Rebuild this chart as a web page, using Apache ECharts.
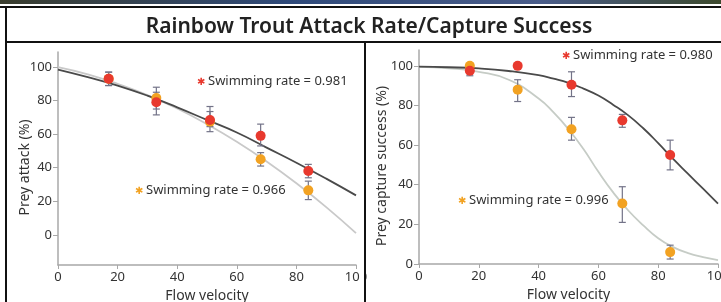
<!DOCTYPE html>
<html lang="en">

<head>
    <meta charset="UTF-8" />
    <title>Rainbow Trout Attack Rate/Capture Success</title>
    <script src="https://cdn.jsdelivr.net/npm/echarts@6/dist/echarts.min.js"></script>
    <style>
        html, body { margin: 0; padding: 0; background: #fff; }
        #main { width: 721px; height: 302px; }
    </style>
</head>

<body>
    <div id="main"></div>
</body>
<script>
    // flow velocities where the trials were run
    var velocity = [17, 33, 51, 68, 84];
    var tickValues = [0, 20, 40, 60, 80, 100];

    // left panel: prey attack (%)
    var attackRed = [93, 79, 68.5, 59, 38];
    var attackRedLow = [89, 71.5, 61.5, 53, 34];
    var attackRedHigh = [97, 85, 76.5, 66, 42];
    var attackOrange = [93, 81.5, 67.5, 45, 26.5];
    var attackOrangeLow = [89, 75, 64.5, 41, 21];
    var attackOrangeHigh = [97, 88, 73.5, 49, 32];

    var attackFitX = [0, 10, 20, 30, 40, 50, 60, 70, 80, 90, 100];
    var attackFitRed = [98.5, 94, 89, 83, 76, 68.5, 61, 52, 43, 33.5, 23.5];
    var attackFitOrange = [100, 95.7, 90, 83.3, 75.3, 66, 55.5, 43.7, 30.7, 16.5, 1];

    // right panel: prey capture success (%)
    var captureRed = [97.5, 100, 90.5, 72.5, 55];
    var captureRedLow = [95, null, 84.5, 69, 47.5];
    var captureRedHigh = [100, null, 97, 75.5, 62.5];
    var captureOrange = [100, 88, 68, 30.5, 6];
    var captureOrangeLow = [null, 82, 62.5, 21, 2.5];
    var captureOrangeHigh = [null, 93, 74, 39, 9.5];

    var captureFitX = [0, 10, 20, 30, 40, 45, 50, 55, 60, 65, 70, 75, 80, 85, 90, 95, 100];
    var captureFitRed = [99.6, 99.3, 98.7, 97.4, 95.3, 93.5, 91.4, 88.5, 85, 80.3, 75, 68.5, 61, 53, 45.5, 38, 30.5];
    var captureFitOrange = [99.5, 98.8, 97, 93, 83.5, 76.5, 68, 58, 46.5, 36, 27, 19.5, 13, 8.5, 5.5, 3.5, 2];

    var fontFamily = '"Noto Sans", "Open Sans", sans-serif';
    var red = '#e8392e';
    var orange = '#f2a222';

    function pairs(xs, ys) {
        var out = [];
        for (var i = 0; i < xs.length; i++) out.push([xs[i], ys[i]]);
        return out;
    }

    function errPairs(xs, lo, hi) {
        var out = [];
        for (var i = 0; i < xs.length; i++) {
            if (lo[i] == null) continue;
            out.push([xs[i], lo[i], hi[i]]);
        }
        return out;
    }

    function errorBar(params, api) {
        var x = api.value(0);
        var top = api.coord([x, api.value(2)]);
        var bot = api.coord([x, api.value(1)]);
        var w = 3.5;
        var style = { stroke: '#737388', lineWidth: 1.2 };
        return {
            type: 'group',
            children: [
                { type: 'line', shape: { x1: top[0], y1: top[1], x2: bot[0], y2: bot[1] }, style: style },
                { type: 'line', shape: { x1: top[0] - w, y1: top[1], x2: top[0] + w, y2: top[1] }, style: style },
                { type: 'line', shape: { x1: bot[0] - w, y1: bot[1], x2: bot[0] + w, y2: bot[1] }, style: style }
            ]
        };
    }

    function xAxisOpt(idx) {
        return {
            type: 'value', gridIndex: idx, min: 0, max: 100,
            name: 'Flow velocity', nameLocation: 'middle', nameGap: 20,
            nameTextStyle: { fontFamily: fontFamily, fontSize: 14, color: '#333' },
            axisLine: { onZero: false, lineStyle: { color: '#a8a8a8', width: 1.5 } },
            axisTick: { show: true, length: 4, customValues: tickValues, lineStyle: { color: '#a8a8a8' } },
            axisLabel: { customValues: tickValues, margin: 6, fontFamily: fontFamily, fontSize: 13, color: '#333' },
            splitLine: { show: false }
        };
    }

    function yAxisOpt(idx, min, max, name, gap) {
        return {
            type: 'value', gridIndex: idx, min: min, max: max,
            name: name, nameLocation: 'middle', nameGap: gap, nameMoveOverlap: false,
            nameTextStyle: { fontFamily: fontFamily, fontSize: 14, color: '#333', padding: [0, 18, 0, 0] },
            axisLine: { show: true, lineStyle: { color: '#a8a8a8', width: 1.5 } },
            axisTick: { show: true, length: 5, customValues: tickValues, lineStyle: { color: '#a8a8a8' } },
            axisLabel: { customValues: tickValues, margin: 6, fontFamily: fontFamily, fontSize: 13, color: '#333' },
            splitLine: { show: false }
        };
    }

    function fitLine(idx, xs, ys, color) {
        return {
            type: 'line', xAxisIndex: idx, yAxisIndex: idx, smooth: true, symbol: 'none',
            data: pairs(xs, ys), lineStyle: { color: color, width: 1.8 }, z: 2, silent: true
        };
    }

    function bars(idx, lo, hi) {
        return {
            type: 'custom', xAxisIndex: idx, yAxisIndex: idx, renderItem: errorBar,
            data: errPairs(velocity, lo, hi), z: 3, silent: true
        };
    }

    function dots(idx, ys, color) {
        return {
            type: 'scatter', xAxisIndex: idx, yAxisIndex: idx, symbolSize: 10,
            data: pairs(velocity, ys), itemStyle: { color: color, opacity: 1 }, z: 4
        };
    }

    function note(x, y, text, color) {
        return [
            { type: 'text', left: x - 5, top: y - 7, z: 100,
              style: { text: '\u2731', fill: color, font: '10px "DejaVu Sans"' } },
            { type: 'text', left: x + 6, top: y - 9, z: 100,
              style: { text: text, fill: '#333', font: '13px ' + fontFamily } }
        ];
    }

    var myChart = echarts.init(document.getElementById('main'));

    var graphics = [
        // photo strip along the top edge
        { type: 'rect', shape: { x: 0, y: 0, width: 721, height: 4 }, z: 100,
          style: { fill: new echarts.graphic.LinearGradient(0, 0, 1, 0, [
              { offset: 0, color: '#3a3d2e' }, { offset: 0.4, color: '#2f4a7a' },
              { offset: 0.75, color: '#4a5d8a' }, { offset: 1, color: '#3d4a2e' }]) } },
        // box lines
        { type: 'rect', shape: { x: 360, y: 268, width: 4, height: 22 }, z: 100, style: { fill: '#fff' } },
        { type: 'line', shape: { x1: 0, y1: 7, x2: 721, y2: 7 }, z: 101, style: { stroke: '#111', lineWidth: 2 } },
        { type: 'line', shape: { x1: 6, y1: 6, x2: 6, y2: 302 }, z: 101, style: { stroke: '#111', lineWidth: 2 } },
        { type: 'line', shape: { x1: 6, y1: 42, x2: 721, y2: 42 }, z: 101, style: { stroke: '#111', lineWidth: 2 } },
        { type: 'line', shape: { x1: 365, y1: 42, x2: 365, y2: 302 }, z: 101, style: { stroke: '#111', lineWidth: 2 } }
    ];
    graphics = graphics
        .concat(note(202, 84, 'Swimming rate = 0.981', red))
        .concat(note(140, 193, 'Swimming rate = 0.966', orange))
        .concat(note(567, 58, 'Swimming rate = 0.980', red))
        .concat(note(463, 203, 'Swimming rate = 0.996', orange));

    var option = {
        animation: false,
        title: {
            text: 'Rainbow Trout Attack Rate/Capture Success',
            left: 364, top: 12, textAlign: 'center',
            textStyle: { fontFamily: fontFamily, fontSize: 21, fontWeight: 600, color: '#222' }
        },
        grid: [
            { left: 58, top: 52, width: 298, height: 213, outerBoundsMode: 'none' },
            { left: 419, top: 50, width: 299, height: 214, outerBoundsMode: 'none' }
        ],
        xAxis: [xAxisOpt(0), xAxisOpt(1)],
        yAxis: [
            yAxisOpt(0, -18, 109, 'Prey attack (%)', 26),
            yAxisOpt(1, 0, 108, 'Prey capture success (%)', 30)
        ],
        series: [
            fitLine(0, attackFitX, attackFitOrange, '#c9c9c9'),
            fitLine(0, attackFitX, attackFitRed, '#4a4a4a'),
            bars(0, attackOrangeLow, attackOrangeHigh),
            bars(0, attackRedLow, attackRedHigh),
            dots(0, attackOrange, orange),
            dots(0, attackRed, red),

            fitLine(1, captureFitX, captureFitOrange, '#c6ccc6'),
            fitLine(1, captureFitX, captureFitRed, '#4a4a4a'),
            bars(1, captureOrangeLow, captureOrangeHigh),
            bars(1, captureRedLow, captureRedHigh),
            dots(1, captureOrange, orange),
            dots(1, captureRed, red)
        ],
        graphic: graphics
    };

    myChart.setOption(option);
</script>

</html>
